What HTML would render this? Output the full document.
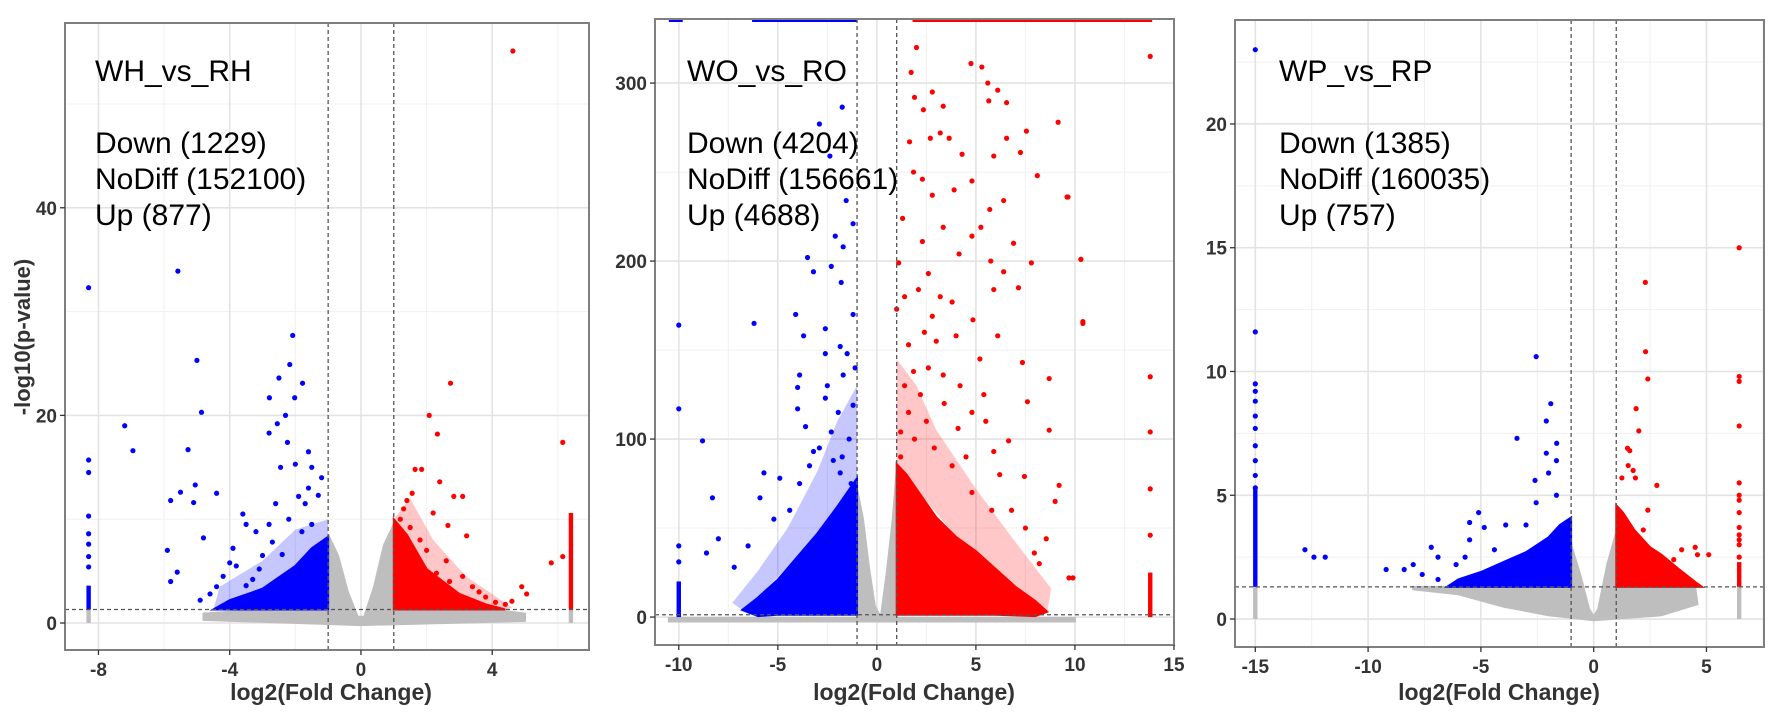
<!DOCTYPE html>
<html><head><meta charset="utf-8"><style>
body{margin:0;background:#fff;}
svg{display:block;font-family:"Liberation Sans",Arial,sans-serif;}
</style></head><body>
<svg id="chart" width="1772" height="714" viewBox="0 0 1772 714" xmlns="http://www.w3.org/2000/svg"></svg>
<script>
// ---------- Panel 1: WH_vs_RH ----------
const p1Blue = [[-8.3,32.3],[-5.58,33.9],[-2.08,27.7],[-5.0,25.3],[-2.17,24.9],[-2.5,23.6],[-1.78,23.1],[-4.86,20.3],[-7.2,19],[-6.95,16.6],[-2.79,21.7],[-2.02,21.7],[-2.3,20],[-2.55,19.2],[-2.8,18.3],[-2.24,17.4],[-5.27,16.7],[-1.6,16.5],[-8.3,15.7],[-8.3,14.5],[-2.0,15.3],[-2.45,15],[-1.5,15],[-5.5,12.6],[-4.4,12.5],[-5.05,13.3],[-5.8,11.8],[-5.1,11.6],[-8.3,10.3],[-4.8,8.2],[-5.9,7.0],[-5.6,4.9],[-5.8,4.0],[-8.3,8.6],[-8.3,7.6],[-8.3,6.4],[-8.3,5.4],[-3.5,9.5],[-3.2,8.8],[-2.8,9.5],[-3.0,6.5],[-3.8,5.5],[-4.0,5.8],[-2.2,10],[-1.7,11.5],[-1.3,12.3],[-1.2,14],[-1.6,13],[-1.9,12.2],[-2.6,11.5],[-3.6,10.5],[-4.2,4.5],[-4.4,3.5],[-3.3,4.2],[-2.7,7.8],[-1.8,8.8],[-1.5,9.5],[-3.9,7.2],[-3.1,5.2],[-2.4,6.6],[-4.6,2.8],[-4.9,2.2],[-3.5,3.6]];
const p1Red = [[4.63,55.1],[2.73,23.1],[2.08,20.0],[2.33,18.2],[6.15,17.4],[1.65,14.8],[1.85,14.8],[2.4,13.6],[1.56,12.5],[2.83,12.2],[3.1,12.2],[2.2,10.6],[2.65,9.4],[3.22,8.4],[6.15,6.4],[5.8,5.8],[4.9,3.5],[5.05,2.8],[1.3,11],[1.4,11.8],[1.2,10],[1.8,8],[2.0,7],[2.6,6],[3.1,4.5],[3.4,3.5],[3.8,2.5],[4.1,2.0],[2.3,4.8],[2.7,4],[4.4,1.8],[4.6,2.1],[3.6,3.0],[1.5,9.2],[1.3,8.5]];
const p1Gray = [[-4.8,0.9],[-3,1.3],[-1,1.3],[-1,8.5],[-0.7,6.5],[-0.4,3],[-0.1,0.6],[0.1,0.6],[0.4,3.5],[0.7,7.5],[1,9.5],[1,1.3],[4,1.3],[5,0.9],[5,0.2],[0,-0.2],[-4.8,0.3]];
const p1BlueDense = [[-4.5,1.3],[-4,2.2],[-3,3.3],[-2,5.5],[-1.5,7.2],[-1,8.3],[-1,1.3]];
const p1BlueMid = [[-1,8.3],[-1,10],[-2,9],[-3,6],[-4.3,3.5],[-4.5,1.3],[-4,2.2],[-3,3.3],[-2,5.5]];
const p1RedDense = [[1,1.3],[1,10],[1.4,8.5],[2,5.2],[3,2.8],[3.8,1.8],[4.4,1.3]];
const p1RedMid = [[1,10],[1.5,12],[2.2,8],[3.2,4.5],[4.6,1.5],[4.4,1.3],[3.8,1.8],[3,2.8],[2,5.2],[1.4,8.5]];
const p1Cols = [[-8.3,0,1.3,'g'],[-8.3,1.3,3.6,'b'],[6.4,0,1.3,'g'],[6.4,1.3,10.6,'r']];
// ---------- Panel 2: WO_vs_RO ----------
const p2Blue = [[-1.75,286.5],[-2.9,277],[-2.37,259],[-1.55,234],[-1.2,221],[-2.1,214],[-1.7,208],[-3.5,202],[-3.2,194],[-2.3,197],[-1.8,188],[-1.2,170],[-4.1,170],[-3.7,158],[-6.2,165],[-2.6,162],[-1.85,152],[-1.5,148],[-2.6,148],[-3.9,136],[-1.7,136],[-4.0,129],[-4.0,117],[-2.6,123],[-1.2,119],[-1.95,115],[-8.8,99],[-3.6,107],[-3.2,93],[-2.3,104],[-1.75,90],[-5.7,81],[-4.9,78],[-8.3,67],[-5.9,67],[-8.6,36],[-8,44],[-3.9,75],[-1.85,81],[-1.3,75],[-10,164],[-10,117],[-10,40],[-10,31],[-2.9,95],[-3.4,85],[-2.2,88],[-4.4,60],[-5.2,55],[-6.5,40],[-7.2,28],[-1.4,100],[-1.1,140],[-2.5,130]];
const p2Red = [[2.0,320],[1.73,306],[4.75,311],[5.3,309],[5.6,300],[6.1,296],[1.9,292],[2.8,295],[2.35,285],[3.35,287],[5.65,290],[6.55,289],[9.15,278],[7.55,273],[6.55,269],[1.65,267],[2.7,269],[3.2,272],[3.65,269],[5.9,259],[7.25,261],[4.3,260],[1.85,250],[2.3,246],[4.8,245],[8.1,248],[9.65,236],[2.8,237],[6.4,234],[1.3,224],[3.35,219],[5.25,219],[5.7,229],[2.3,211],[4.8,214],[4.15,204],[1.1,199],[2.6,193],[5.75,200],[6.4,194],[7.8,199],[10.3,201],[2.1,184],[3.8,177],[5.9,184],[7.15,185],[1.0,173],[2.8,169],[4.85,167],[10.4,166],[1.6,153],[4.0,158],[6.1,158],[7.35,143],[8.7,134],[1.85,138],[3.35,136],[5.4,125],[7.6,121],[4.8,115],[1.2,104],[6.65,99],[8.7,105],[4.1,106],[9.2,74],[5.9,93],[7.45,79],[9.0,65],[8.55,44],[9.9,22],[7.95,36],[1.4,130],[1.6,115],[2.2,125],[2.5,110],[1.9,100],[2.9,95],[3.4,120],[1.2,90],[3.8,85],[4.5,90],[2.6,140],[4.2,130],[5.2,145],[3.0,155],[5.5,110],[6.2,80],[6.8,60],[7.5,50],[8.2,30],[4.8,70],[5.8,60],[9.6,236],[10.3,201],[10.4,165],[9.7,22],[13.8,315],[13.8,135],[13.8,104],[13.8,72],[13.8,46],[3.2,180],[2.4,160],[6.9,210],[3.9,240],[1.4,180]];
const p2Gray = [[-10.5,-0.5],[-1,-0.5],[-1,72],[-0.7,55],[-0.4,28],[-0.1,6],[0.2,0],[0.5,25],[0.8,55],[1,82],[1,-0.5],[10,-0.5],[10,-2.5],[-10.5,-2.5]];
const p2BlueDense = [[-1,1.3],[-1,78],[-1.5,70],[-2,62],[-3,47],[-4,34],[-5,21],[-6,11],[-6.8,4],[-6,0.5],[-5,1.3]];
const p2BlueMid = [[-1,78],[-1,130],[-2,110],[-3,82],[-4.5,50],[-6,26],[-7.3,8],[-6.8,4],[-6,11],[-4,34],[-2,62]];
const p2RedDense = [[1,1.3],[1,86],[1.5,80],[2,72],[3,56],[4,45],[5,37],[6,27],[7,17],[8,9],[8.6,3],[8,0.5],[6,1.3]];
const p2RedMid = [[1,86],[1,145],[2,130],[3,105],[5,72],[7,42],[8.8,16],[8.6,3],[8,9],[6,27],[4,45],[2,72]];
const p2Cols = [[-10,0,20,'b'],[13.8,0,25,'r']];
const p2Caps = [[-10.5,-9.8,'b'],[-6.3,-1.0,'b'],[1.8,13.9,'r']];
// ---------- Panel 3: WP_vs_RP ----------
const p3Blue = [[-15,23],[-15,11.6],[-2.55,10.6],[-1.9,8.7],[-2.1,8.0],[-3.4,7.3],[-1.64,7.1],[-2.1,6.7],[-1.65,6.4],[-2.0,5.9],[-2.6,5.6],[-1.65,5.0],[-2.55,4.7],[-5.1,4.3],[-5.5,3.9],[-4.85,3.7],[-3.9,3.8],[-3.0,3.8],[-5.5,3.2],[-7.2,2.9],[-12.8,2.8],[-12.4,2.5],[-11.9,2.5],[-9.2,2.0],[-8.4,2.0],[-8.0,2.2],[-6.9,2.5],[-5.7,2.5],[-7.6,1.8],[-6.9,1.6],[-6.1,2.2],[-4.4,2.8],[-15,9.5],[-15,9.2],[-15,8.8],[-15,8.2],[-15,7.7],[-15,7.0],[-15,6.4],[-15,5.8],[-15,5.3]];
const p3Red = [[2.29,13.6],[2.3,10.8],[2.4,9.7],[1.88,8.5],[2.0,7.6],[1.5,6.9],[1.6,6.8],[1.53,6.2],[1.75,6.0],[1.25,5.7],[1.85,5.7],[2.8,5.4],[2.4,4.4],[2.2,3.6],[4.5,2.9],[3.9,2.8],[5.1,2.6],[4.6,2.6],[3.55,2.4],[3.2,2.0],[6.45,15],[6.45,9.8],[6.45,9.6],[6.45,7.8],[6.45,5.5],[6.45,5.0],[6.45,4.8],[6.45,4.3],[6.45,3.7],[6.45,3.4],[6.45,3.2],[6.45,3.0],[6.45,2.5]];
const p3Gray = [[-8,1.3],[-1,1.3],[-1,3.0],[-0.6,1.8],[-0.2,0.4],[0,0.1],[0.2,0.4],[0.6,2.2],[1,3.5],[1,1.3],[4.5,1.3],[4.6,0.6],[3,0.15],[0,-0.05],[-2,0.15],[-4,0.5],[-6,1.0],[-8,1.2]];
const p3BlueDense = [[-1,1.3],[-1,4.1],[-1.5,3.8],[-2,3.3],[-3,2.7],[-4,2.3],[-5,1.9],[-6,1.6],[-6.5,1.3]];
const p3RedDense = [[1,1.3],[1,4.6],[1.3,4.3],[1.8,3.6],[2.5,2.9],[3,2.6],[3.8,2.0],[4.5,1.5],[4.8,1.3]];
const p3Cols = [[-15,0,1.3,'g'],[-15,1.3,5.3,'b'],[6.45,0,1.3,'g'],[6.45,1.3,2.3,'r']];

// tick arrays
const p1XTicks=[-8,-4,0,4], p1YTicks=[0,20,40];
const p2XTicks=[-10,-5,0,5,10,15], p2YTicks=[0,100,200,300];
const p3XTicks=[-15,-10,-5,0,5], p3YTicks=[0,5,10,15,20];
const titles=['WH_vs_RH','WO_vs_RO','WP_vs_RP'];
const downCounts=[1229,4204,1385], noDiffCounts=[152100,156661,160035], upCounts=[877,4688,757];

const NS='http://www.w3.org/2000/svg';
const svg=document.getElementById('chart');
function mk(tag,attrs,parent){const e=document.createElementNS(NS,tag);for(const k in attrs)e.setAttribute(k,attrs[k]);(parent||svg).appendChild(e);return e;}
const COL={b:'#0000ff',r:'#ff0000',g:'#bebebe'};

const panels=[
 {L:65,R:589,T:23,B:650,xd:[-9.02,6.95],yd:[-2.6,57.8],xt:p1XTicks,yt:p1YTicks,xm:2,ym:10,blue:p1Blue,red:p1Red,gray:p1Gray,bd:p1BlueDense,rd:p1RedDense,bm:p1BlueMid,rm:p1RedMid,cols:p1Cols,tx:95,xlab:331},
 {L:655,R:1174,T:19,B:645,xd:[-11.2,15.0],yd:[-15.7,336],xt:p2XTicks,yt:p2YTicks,xm:2.5,ym:50,blue:p2Blue,red:p2Red,gray:p2Gray,bd:p2BlueDense,rd:p2RedDense,bm:p2BlueMid,rm:p2RedMid,cols:p2Cols,caps:p2Caps,tx:687,xlab:914},
 {L:1235,R:1764,T:20,B:647,xd:[-15.9,7.55],yd:[-1.13,24.2],xt:p3XTicks,yt:p3YTicks,xm:2.5,ym:2.5,blue:p3Blue,red:p3Red,gray:p3Gray,bd:p3BlueDense,rd:p3RedDense,cols:p3Cols,tx:1279,xlab:1499}
];

panels.forEach((p,i)=>{
  const g=mk('g',{});
  
  
  const X=v=>p.L+(v-p.xd[0])/(p.xd[1]-p.xd[0])*(p.R-p.L);
  const Y=v=>p.B-(v-p.yd[0])/(p.yd[1]-p.yd[0])*(p.B-p.T);
  const clipId='clip'+i;
  const cp=mk('clipPath',{id:clipId},g); mk('rect',{x:p.L,y:p.T,width:p.R-p.L,height:p.B-p.T},cp);
  for(let v=Math.ceil(p.xd[0]/p.xm)*p.xm;v<=p.xd[1];v+=p.xm){mk('line',{x1:X(v),x2:X(v),y1:p.T,y2:p.B,stroke:'#f0f0f0','stroke-width':1},g);}
  for(let v=Math.ceil(p.yd[0]/p.ym)*p.ym;v<=p.yd[1];v+=p.ym){mk('line',{x1:p.L,x2:p.R,y1:Y(v),y2:Y(v),stroke:'#f0f0f0','stroke-width':1},g);}
  p.xt.forEach(v=>{const l=mk('line',{x1:X(v),x2:X(v),y1:p.T,y2:p.B,stroke:'#e3e3e3','stroke-width':1.6},g);});
  p.yt.forEach(v=>{const l=mk('line',{x1:p.L,x2:p.R,y1:Y(v),y2:Y(v),stroke:'#e3e3e3','stroke-width':1.6},g);});
  const d=mk('g',{'clip-path':'url(#'+clipId+')'},g);
  
  
  const poly=(pts,c,op)=>{const e=mk('polygon',{points:pts.map(q=>X(q[0])+','+Y(q[1])).join(' '),fill:c,'fill-opacity':op||1,stroke:c,'stroke-width':op?0:2},d);return e;};
  const gp=poly(p.gray,COL.g);  
  if(p.bm){const e=poly(p.bm,COL.b,0.22);}
  if(p.rm){const e=poly(p.rm,COL.r,0.22);}
  const bp=poly(p.bd,COL.b);  
  const rp=poly(p.rd,COL.r);  
  p.cols.forEach(c=>{const e=mk('rect',{x:X(c[0])-2.2,y:Y(c[2]),width:4.4,height:Math.max(1,Y(c[1])-Y(c[2])),fill:COL[c[3]]},d);});
  if(p.caps)p.caps.forEach(c=>{const e=mk('rect',{x:X(c[0]),y:p.T,width:X(c[1])-X(c[0]),height:3,fill:COL[c[2]]},d);});
  p.blue.forEach(q=>{const e=mk('circle',{cx:X(q[0]),cy:Y(q[1]),r:2.6,fill:COL.b},d);});
  p.red.forEach(q=>{const e=mk('circle',{cx:X(q[0]),cy:Y(q[1]),r:2.6,fill:COL.r},d);});
  [-1,1].forEach(v=>{const e=mk('line',{x1:X(v),x2:X(v),y1:p.T,y2:p.B,stroke:'#555','stroke-width':1.3,'stroke-dasharray':'4,3'},g);});
  const h=mk('line',{x1:p.L,x2:p.R,y1:Y(1.3),y2:Y(1.3),stroke:'#555','stroke-width':1.3,'stroke-dasharray':'4,3'},g);
  
  
  const b=mk('rect',{x:p.L,y:p.T,width:p.R-p.L,height:p.B-p.T,fill:'none',stroke:'#7f7f7f','stroke-width':2},g);
  
  
  p.xt.forEach(v=>{mk('line',{x1:X(v),x2:X(v),y1:p.B,y2:p.B+5,stroke:'#333','stroke-width':1.3},g);
    const t=mk('text',{x:X(v),y:p.B+26,'text-anchor':'middle','font-size':19,'font-weight':'bold',fill:'#333'},g);t.textContent=v;
    });
  p.yt.forEach(v=>{mk('line',{x1:p.L-5,x2:p.L,y1:Y(v),y2:Y(v),stroke:'#333','stroke-width':1.3},g);
    const t=mk('text',{x:p.L-8,y:Y(v)+7,'text-anchor':'end','font-size':19,'font-weight':'bold',fill:'#333'},g);t.textContent=v;
    });
  const xl=mk('text',{x:p.xlab,y:700,'text-anchor':'middle','font-size':23,'font-weight':'bold',fill:'#333'},g);
  xl.textContent='log2(Fold Change)';
  
  
  const lines=[titles[i],'Down ('+downCounts[i]+')','NoDiff ('+noDiffCounts[i]+')','Up ('+upCounts[i]+')'];
  const ys=[81,153,189,225];
  lines.forEach((s,k)=>{const t=mk('text',{x:p.tx,y:ys[k],'font-size':30,fill:'#000'},g);t.textContent=s;
    });
});
const yt=mk('text',{x:0,y:0,transform:'translate(30,337) rotate(-90)','text-anchor':'middle','font-size':22,'font-weight':'bold',fill:'#333'});
yt.textContent='-log10(p-value)';


</script>
</body></html>
